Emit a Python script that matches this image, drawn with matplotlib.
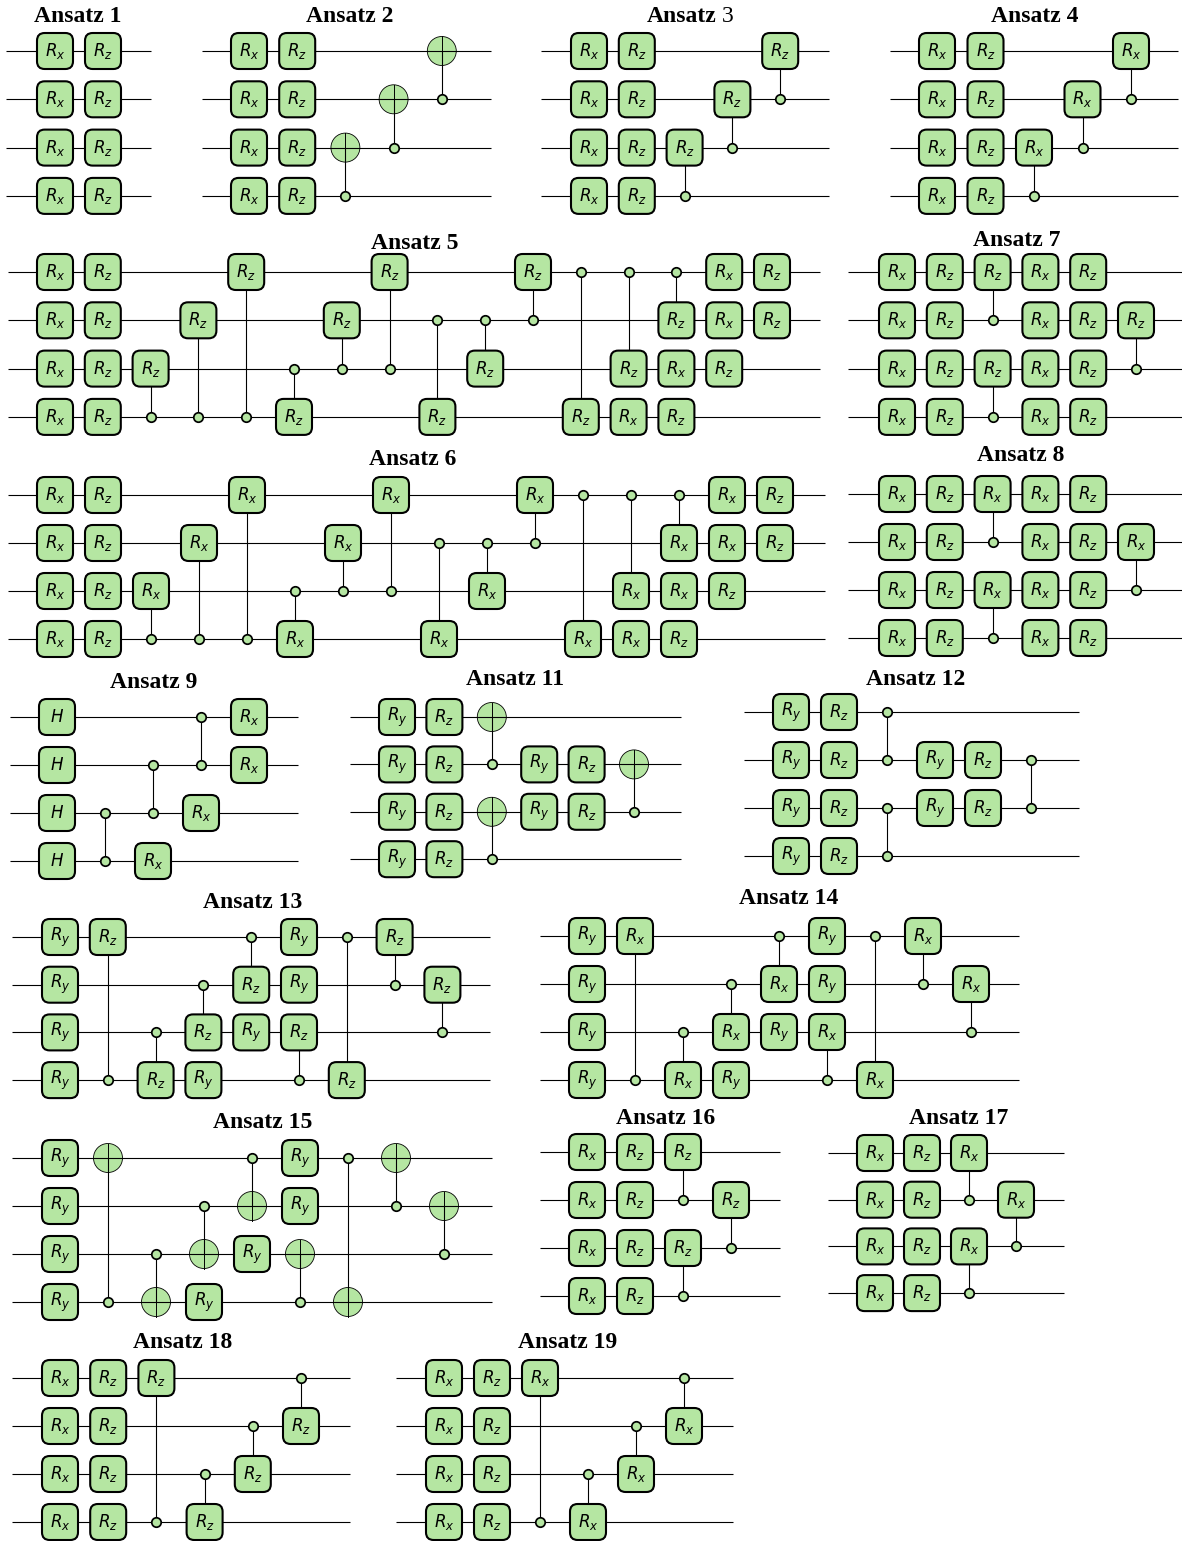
import matplotlib
matplotlib.use("Agg")
import matplotlib.pyplot as plt
from matplotlib.patches import FancyBboxPatch, Circle

W, H = 1182, 1541
ALL = [0, 1, 2, 3]

# ---- circuits: single-qubit layers (column, gate, wires) and controlled gates (column, gate, target, control)
A1_G = [(0, 'Rx', ALL), (1, 'Rz', ALL)]
A1_C = []
A2_G = [(0, 'Rx', ALL), (1, 'Rz', ALL)]
A2_C = [(2, 'X', 2, 3), (3, 'X', 1, 2), (4, 'X', 0, 1)]
A3_G = [(0, 'Rx', ALL), (1, 'Rz', ALL)]
A3_C = [(2, 'Rz', 2, 3), (3, 'Rz', 1, 2), (4, 'Rz', 0, 1)]
A4_G = [(0, 'Rx', ALL), (1, 'Rz', ALL)]
A4_C = [(2, 'Rx', 2, 3), (3, 'Rx', 1, 2), (4, 'Rx', 0, 1)]
A5_G = [(0, 'Rx', ALL), (1, 'Rz', ALL), (12, 'Rx', [3]), (13, 'Rz', [3]), (13, 'Rx', [2]),
        (14, 'Rz', [2]), (14, 'Rx', [0, 1]), (15, 'Rz', [0, 1])]
A5_C = [(2, 'Rz', 2, 3), (3, 'Rz', 1, 3), (4, 'Rz', 0, 3), (5, 'Rz', 3, 2), (6, 'Rz', 1, 2),
        (7, 'Rz', 0, 2), (8, 'Rz', 3, 1), (9, 'Rz', 2, 1), (10, 'Rz', 0, 1), (11, 'Rz', 3, 0),
        (12, 'Rz', 2, 0), (13, 'Rz', 1, 0)]
A6_G = [(0, 'Rx', ALL), (1, 'Rz', ALL), (12, 'Rx', [3]), (13, 'Rz', [3]), (13, 'Rx', [2]),
        (14, 'Rz', [2]), (14, 'Rx', [0, 1]), (15, 'Rz', [0, 1])]
A6_C = [(2, 'Rx', 2, 3), (3, 'Rx', 1, 3), (4, 'Rx', 0, 3), (5, 'Rx', 3, 2), (6, 'Rx', 1, 2),
        (7, 'Rx', 0, 2), (8, 'Rx', 3, 1), (9, 'Rx', 2, 1), (10, 'Rx', 0, 1), (11, 'Rx', 3, 0),
        (12, 'Rx', 2, 0), (13, 'Rx', 1, 0)]
A7_G = [(0, 'Rx', ALL), (1, 'Rz', ALL), (3, 'Rx', ALL), (4, 'Rz', ALL)]
A7_C = [(2, 'Rz', 0, 1), (2, 'Rz', 2, 3), (5, 'Rz', 1, 2)]
A8_G = [(0, 'Rx', ALL), (1, 'Rz', ALL), (3, 'Rx', ALL), (4, 'Rz', ALL)]
A8_C = [(2, 'Rx', 0, 1), (2, 'Rx', 2, 3), (5, 'Rx', 1, 2)]
A9_G = [(0, 'H', ALL), (2, 'Rx', [3]), (3, 'Rx', [2]), (4, 'Rx', [0, 1])]
A9_C = [(1, 'Z', 2, 3), (2, 'Z', 1, 2), (3, 'Z', 0, 1)]
A11_G = [(0, 'Ry', ALL), (1, 'Rz', ALL), (3, 'Ry', [1, 2]), (4, 'Rz', [1, 2])]
A11_C = [(2, 'X', 0, 1), (2, 'X', 2, 3), (5, 'X', 1, 2)]
A12_G = [(0, 'Ry', ALL), (1, 'Rz', ALL), (3, 'Ry', [1, 2]), (4, 'Rz', [1, 2])]
A12_C = [(2, 'Z', 0, 1), (2, 'Z', 2, 3), (5, 'Z', 1, 2)]
A13_G = [(0, 'Ry', ALL), (3, 'Ry', [3]), (4, 'Ry', [2]), (5, 'Ry', [0, 1])]
A13_C = [(1, 'Rz', 0, 3), (2, 'Rz', 3, 2), (3, 'Rz', 2, 1), (4, 'Rz', 1, 0), (5, 'Rz', 2, 3),
         (6, 'Rz', 3, 0), (7, 'Rz', 0, 1), (8, 'Rz', 1, 2)]
A14_G = [(0, 'Ry', ALL), (3, 'Ry', [3]), (4, 'Ry', [2]), (5, 'Ry', [0, 1])]
A14_C = [(1, 'Rx', 0, 3), (2, 'Rx', 3, 2), (3, 'Rx', 2, 1), (4, 'Rx', 1, 0), (5, 'Rx', 2, 3),
         (6, 'Rx', 3, 0), (7, 'Rx', 0, 1), (8, 'Rx', 1, 2)]
A15_G = [(0, 'Ry', ALL), (3, 'Ry', [3]), (4, 'Ry', [2]), (5, 'Ry', [0, 1])]
A15_C = [(1, 'X', 0, 3), (2, 'X', 3, 2), (3, 'X', 2, 1), (4, 'X', 1, 0), (5, 'X', 2, 3),
         (6, 'X', 3, 0), (7, 'X', 0, 1), (8, 'X', 1, 2)]
A16_G = [(0, 'Rx', ALL), (1, 'Rz', ALL)]
A16_C = [(2, 'Rz', 0, 1), (2, 'Rz', 2, 3), (3, 'Rz', 1, 2)]
A17_G = [(0, 'Rx', ALL), (1, 'Rz', ALL)]
A17_C = [(2, 'Rx', 0, 1), (2, 'Rx', 2, 3), (3, 'Rx', 1, 2)]
A18_G = [(0, 'Rx', ALL), (1, 'Rz', ALL)]
A18_C = [(2, 'Rz', 0, 3), (3, 'Rz', 3, 2), (4, 'Rz', 2, 1), (5, 'Rz', 1, 0)]
A19_G = [(0, 'Rx', ALL), (1, 'Rz', ALL)]
A19_C = [(2, 'Rx', 0, 3), (3, 'Rx', 3, 2), (4, 'Rx', 2, 1), (5, 'Rx', 1, 0)]

# ---- panel layout in pixels: wire start, wire end, first column, column pitch, first wire, wire pitch, title x, title baseline
LAYOUT = [
    ('Ansatz 1',  A1_G,  A1_C,  6,   151,  55,  48.0, 51,   48.3, 77.5, 21.5),
    ('Ansatz 2',  A2_G,  A2_C,  202, 491,  249, 48.2, 51,   48.3, 350,  21.5),
    ('Ansatz 3',  A3_G,  A3_C,  541, 829,  589, 47.8, 51,   48.3, 690,  21.5),
    ('Ansatz 4',  A4_G,  A4_C,  890, 1178, 937, 48.5, 51,   48.3, 1035, 21.5),
    ('Ansatz 5',  A5_G,  A5_C,  8,   820,  55,  47.8, 272,  48.3, 415,  249),
    ('Ansatz 6',  A6_G,  A6_C,  8,   825,  55,  48.0, 495,  48.0, 413,  465),
    ('Ansatz 7',  A7_G,  A7_C,  848, 1182, 897, 47.8, 272,  48.3, 1017, 246.5),
    ('Ansatz 8',  A8_G,  A8_C,  848, 1182, 897, 47.8, 494,  48.0, 1021, 461),
    ('Ansatz 9',  A9_G,  A9_C,  10,  298,  57,  48.0, 717,  48.0, 154,  687.5),
    ('Ansatz 11', A11_G, A11_C, 350, 681,  397, 47.4, 717,  47.4, 515,  685.5),
    ('Ansatz 12', A12_G, A12_C, 744, 1079, 791, 48.0, 712,  48.0, 916,  684.5),
    ('Ansatz 13', A13_G, A13_C, 12,  490,  60,  47.8, 937,  47.7, 253,  908.5),
    ('Ansatz 14', A14_G, A14_C, 540, 1019, 587, 48.0, 936,  48.0, 789,  904),
    ('Ansatz 15', A15_G, A15_C, 12,  492,  60,  48.0, 1158, 48.0, 262.5, 1128.5),
    ('Ansatz 16', A16_G, A16_C, 540, 780,  587, 48.0, 1152, 48.0, 666,  1123.5),
    ('Ansatz 17', A17_G, A17_C, 828, 1064, 875, 47.0, 1153, 46.7, 959,  1124.5),
    ('Ansatz 18', A18_G, A18_C, 12,  350,  60,  48.2, 1378, 48.0, 183,  1348.5),
    ('Ansatz 19', A19_G, A19_C, 396, 733,  444, 48.0, 1378, 48.0, 568,  1348.5),
]

GATE_TEXT = {'Rx': r'$R_x$', 'Ry': r'$R_y$', 'Rz': r'$R_z$', 'H': r'$H$'}
FILL = '#b5e6a2'
EDGE = '#000000'
GATE_PX = 36
CNOT_PX = 29
plt.rcParams['mathtext.fontset'] = 'dejavusans'
fig = plt.figure(figsize=(W / 100, H / 100), dpi=100)
fig.patch.set_facecolor('white')


def draw_gate(ax, col, wire, name, dx, dy):
    hw, hh = GATE_PX / 2 / dx, GATE_PX / 2 / dy
    rad = 0.16
    ax.add_patch(FancyBboxPatch((col - hw + rad * .5, wire - hh + rad * .5), 2 * hw - rad, 2 * hh - rad,
                                boxstyle=f'round,pad={rad * .5},rounding_size={rad}',
                                fc=FILL, ec=EDGE, lw=1.5, zorder=4))
    ax.text(col, wire, GATE_TEXT[name], ha='center', va='center', fontsize=12, zorder=5)


def draw_dot(ax, col, wire):
    ax.plot([col], [wire], 'o', ms=6.8, mfc=FILL, mec=EDGE, mew=1.25, zorder=6)


def draw_panel(title, gates, ctrls, xl, xr, cx0, dx, y0, dy, tx, tb):
    top, bottom = y0 - 24, y0 + 3 * dy + 24
    ax = fig.add_axes([xl / W, 1 - bottom / H, (xr - xl) / W, (bottom - top) / H])
    xmin, xmax = (xl - cx0) / dx, (xr - cx0) / dx
    ax.set_xlim(xmin, xmax)
    ax.set_ylim((bottom - y0) / dy, (top - y0) / dy)
    ax.axis('off')
    for w in ALL:
        ax.plot([xmin, xmax], [w, w], color='black', lw=0.8, zorder=1, solid_capstyle='butt')
    for col, name, wires in gates:
        for w in wires:
            draw_gate(ax, col, w, name, dx, dy)
    for col, name, target, control in ctrls:
        ax.plot([col, col], [target, control], color='black', lw=0.8, zorder=2)
        draw_dot(ax, col, control)
        if name == 'Z':
            draw_dot(ax, col, target)
        elif name == 'X':
            r = CNOT_PX / 2 / dy
            ax.add_patch(Circle((col, target), r, fc=FILL, ec=EDGE, lw=0.6, zorder=0.5))
            ax.plot([col, col], [target - r, target + r], color='black', lw=0.7, zorder=3)
        else:
            draw_gate(ax, col, target, name, dx, dy)
    for child in ax.get_children():
        try:
            child.set_clip_on(False)
        except Exception:
            pass
    # titles
    kw = dict(family='Liberation Serif', fontsize=17, va='baseline', color='black')
    if title == 'Ansatz 3':
        fig.text((tx - 43) / W, 1 - tb / H, 'Ansatz', ha='left', fontweight='bold', **kw)
        fig.text((tx + 38) / W, 1 - tb / H, '3', ha='center', **kw)
    else:
        fig.text(tx / W, 1 - tb / H, title, ha='center', fontweight='bold', **kw)


for row in LAYOUT:
    draw_panel(*row)

fig.savefig('out.png', dpi=100)
